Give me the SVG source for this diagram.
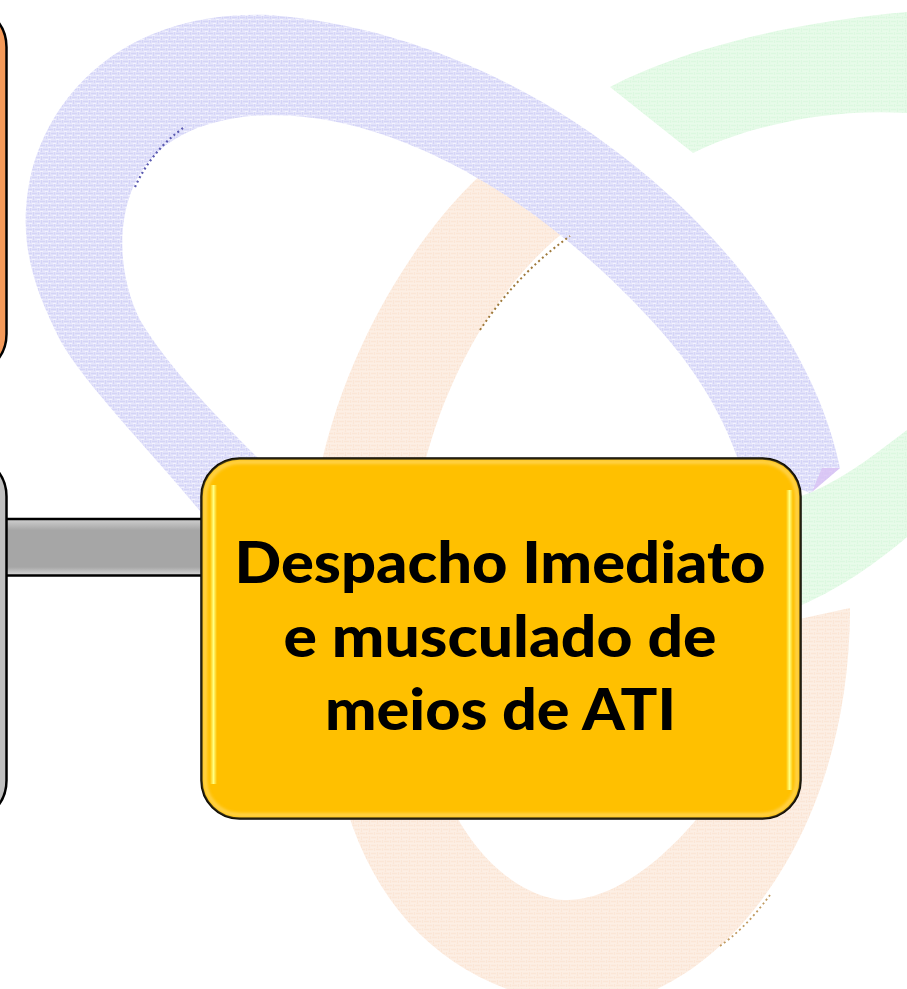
<svg xmlns="http://www.w3.org/2000/svg" width="907" height="989" viewBox="0 0 907 989">
<style>
.ring{stroke:none}
.edge{stroke:#000;stroke-width:2.5}
.label{font-family:"Lato","Liberation Sans",sans-serif;font-weight:900;font-size:58px;fill:#000;text-anchor:middle}
</style>
<defs>
<pattern id="texB" width="8" height="8" patternUnits="userSpaceOnUse"><rect width="8" height="8" fill="#e6e6fb"/><path d="M0 1.500H5M3 5.500H8M1.500 4V8M6.500 0V3" stroke="#d4d4f7" stroke-width="1.300" fill="none"/><path d="M0 3.500H3M5 7.500H8" stroke="#f3f3fe" stroke-width="1"/></pattern>
<pattern id="texG" width="8" height="8" patternUnits="userSpaceOnUse"><rect width="8" height="8" fill="#e8fbea"/><path d="M0 1.500H5M3 5.500H8M1.500 4V8M6.500 0V3" stroke="#dcf8e0" stroke-width="1.300" fill="none"/></pattern>
<pattern id="texO" width="8" height="8" patternUnits="userSpaceOnUse"><rect width="8" height="8" fill="#fdefe4"/><path d="M0 1.500H5M3 5.500H8M1.500 4V8M6.500 0V3" stroke="#fbe6d6" stroke-width="1.300" fill="none"/></pattern>
<linearGradient id="bar" x1="0" y1="0" x2="0" y2="1"><stop offset="0" stop-color="#d0d0d0"/><stop offset=".2" stop-color="#a6a6a6"/><stop offset=".85" stop-color="#a6a6a6"/><stop offset="1" stop-color="#d8d8d8"/></linearGradient>
<linearGradient id="glow" x1="0" y1="0" x2="1" y2="0"><stop offset="0" stop-color="#ffc000"/><stop offset=".5" stop-color="#ffff80"/><stop offset="1" stop-color="#ffc000"/></linearGradient>
<filter id="soft" x="-5%" y="-5%" width="110%" height="110%"><feGaussianBlur stdDeviation="0.7"/></filter>
<filter id="soft2" x="-5%" y="-5%" width="110%" height="110%"><feGaussianBlur stdDeviation="1.500"/></filter>
</defs>
<rect width="907" height="989" fill="#fff"/>
<g id="background" filter="url(#soft)">
<path class="ring" fill="url(#texG)" d="M610 87C680 50 790 22 907 12V113C830 108 750 125 693 153Z"/>
<path class="ring" fill="url(#texG)" d="M790 500L812 492C850 475 880 450 907 430V537C880 560 840 590 790 610Z"/>
<path class="ring" fill="url(#texO)" d="M483 173L576 223C510 270 450 360 423 470H320C350 330 430 220 483 173Z"/>
<path class="ring" fill="url(#texO)" d="M347 810H453C490 880 540 900 567 900C650 900 760 770 795 620L850 608C850 800 760 940 657 989H507C430 960 375 900 347 810Z"/>
<path class="ring" fill="url(#texB)" d="M840 468C820 370 750 260 640 170C530 80 400 25 270 15C150 10 60 70 32 170C15 240 35 290 60 340C85 385 150 450 205 517L262 462C220 420 170 370 140 320C115 270 115 200 150 160C190 115 270 105 350 125C470 155 580 240 660 330C700 375 725 420 740 465L810 493Z"/>
<path d="M812 492L840 468L822 468Z" fill="#d8c0f4" opacity=".8"/>
</g>
<g id="accents">
<path d="M135 187C145 165 160 145 183 128" fill="none" stroke="#5a5ab0" stroke-width="2.200" stroke-dasharray="2 3"/>
<path d="M480 330C510 285 540 258 570 236" fill="none" stroke="#a07a3c" stroke-width="2" stroke-dasharray="2 3"/>
<path d="M720 946C735 935 750 922 770 895" fill="none" stroke="#c09a60" stroke-width="1.800" stroke-dasharray="2 3"/>
</g>
<g id="connectors">
<rect class="edge" x="0" y="519" width="210" height="56.500" fill="url(#bar)"/>
</g>
<g id="node-orange"><rect class="edge" x="-60" y="9" width="66.500" height="363" rx="38" fill="#f49a5a"/></g>
<g id="node-grey"><rect class="edge" x="-60" y="458.500" width="66.500" height="360" rx="38" fill="#c0c0c0"/></g>
<g id="node-main">
<rect class="edge" x="201.500" y="458.500" width="599" height="360" rx="38" fill="#ffc000"/>
<rect x="205" y="462" width="592" height="353" rx="35" fill="none" stroke="#ffd24a" stroke-width="4" filter="url(#soft2)"/>
<rect x="210" y="485" width="7" height="299" fill="url(#glow)"/>
<rect x="786" y="490" width="7" height="300" fill="url(#glow)"/>
<text class="label" x="500" y="583" textLength="531" lengthAdjust="spacingAndGlyphs">Despacho Imediato</text>
<text class="label" x="500" y="657" textLength="433" lengthAdjust="spacingAndGlyphs">e musculado de</text>
<text class="label" x="500.500" y="730" textLength="351" lengthAdjust="spacingAndGlyphs">meios de ATI</text>
</g>
</svg>
